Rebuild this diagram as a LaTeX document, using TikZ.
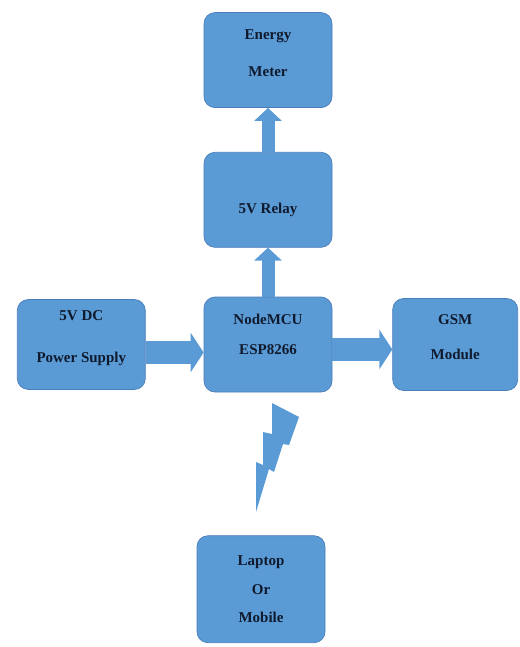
\documentclass[tikz,border=0pt]{standalone}
\usepackage{fontspec}
\setmainfont{Liberation Serif}
\usetikzlibrary{arrows.meta,positioning}
\definecolor{BoxBlue}{HTML}{5B9BD5}
\definecolor{EdgeBlue}{HTML}{4A7EBB}
\definecolor{Ink}{HTML}{0F1A2E}

\begin{document}
\begin{tikzpicture}[x=1pt,y=-1pt,
    blk/.style={draw=EdgeBlue,fill=BoxBlue,rounded corners=11pt,line width=0.7pt,
      minimum width=128pt,minimum height=95pt,align=center,text=Ink,
      font=\fontsize{15}{30}\selectfont\bfseries},
    hflow/.style={-{Triangle[length=13pt,width=39pt]},line width=23pt,draw=BoxBlue},
    vflow/.style={-{Triangle[length=13pt,width=27pt]},line width=13pt,draw=BoxBlue}]
  \useasboundingbox (0,0) rectangle (519,647);
  % blocks
  \node[blk,text depth=21pt] (mcu) at (268,344.5) {NodeMCU\\ESP8266};
  \node[blk,above=49pt of mcu,text height=30pt] (relay) {5V Relay};
  \node[blk,above=44pt of relay,text depth=15pt] (meter) {Energy\\[7pt]Meter};
  \node[blk,left=58pt of mcu,minimum height=90pt,text depth=15pt] (power) {5V DC\\[12pt]Power Supply};
  \node[blk,right=60pt of mcu,minimum width=125pt,minimum height=92pt,text depth=15pt] (gsm) {GSM\\[5pt]Module};
  \node[blk,below=143pt of mcu,xshift=-7pt,minimum height=107pt,
    font=\fontsize{15}{28.5}\selectfont\bfseries] (laptop) {Laptop\\Or\\Mobile};
  % arrows
  \draw[vflow] (mcu.north) -- (relay.south);
  \draw[vflow] (relay.north) -- (meter.south);
  \draw[hflow] ([yshift=-8pt]power.east) -- ([yshift=-8pt]mcu.west);
  \draw[hflow] ([yshift=-5pt]mcu.east) -- ([yshift=-5pt]gsm.west);
  % wireless link
  \fill[BoxBlue] (272,403) -- (299,417) -- (289,445) -- (283,444) -- (274,472) -- (269,469)
    -- (256,512) -- (256,462) -- (263,465) -- (263,432) -- (272,434) -- cycle;
\end{tikzpicture}
\end{document}
